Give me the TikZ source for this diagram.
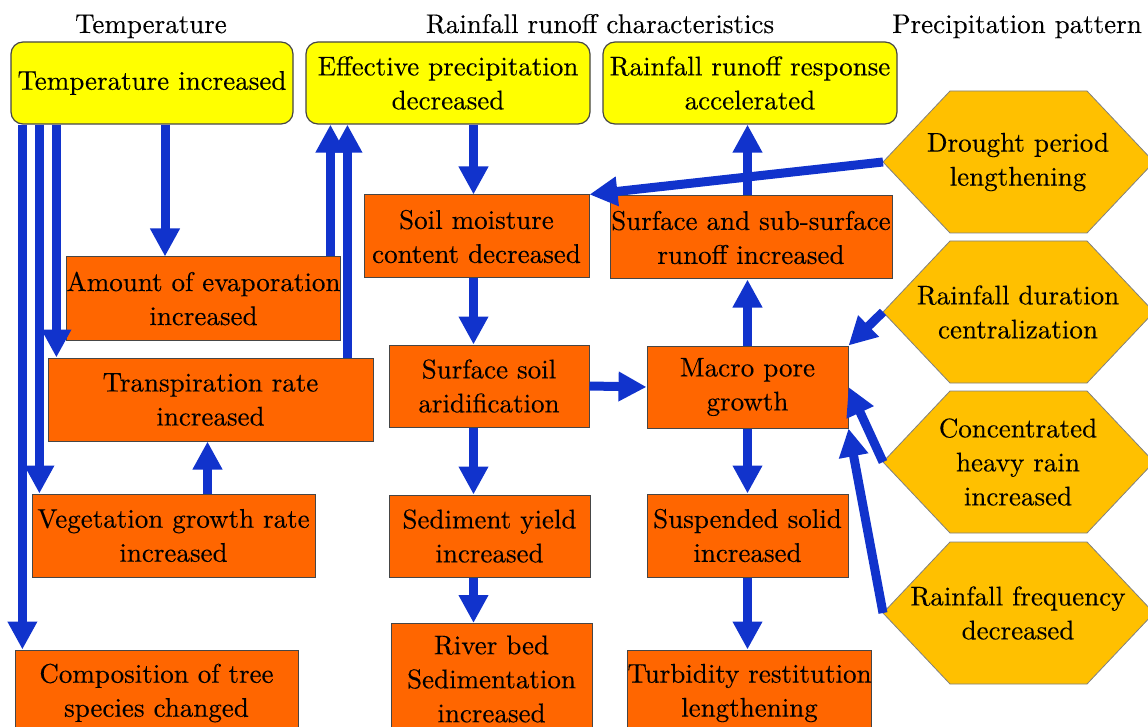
\documentclass[tikz,border=0pt]{standalone}
\usepackage{fontspec}
\setmainfont{lmroman10-regular.otf}[FakeBold=0.2]
\usetikzlibrary{arrows.meta,positioning}

\definecolor{arrowblue}{RGB}{17,51,204}
\definecolor{boxorange}{RGB}{255,102,0}
\definecolor{boxyellow}{RGB}{255,255,0}
\definecolor{hexgold}{RGB}{255,192,0}
\definecolor{edgegray}{RGB}{70,70,70}

% hexagon for a precipitation cause: name, x, y, text
\newcommand{\hexcause}[4]{%
  \filldraw[hexbox] (#2-135,#3) -- ++(67,-71) -- ++(137,0) -- ++(67,71)
    -- ++(-67,71) -- ++(-137,0) -- cycle;
  \node[hextext] (#1) at (#2,#3) {#4};
  \coordinate (#1-w) at (#2-135,#3);
}

\begin{document}
\begin{tikzpicture}[
    x=1pt, y=-1pt,
    font=\fontsize{27}{34}\selectfont,
    heading/.style={inner sep=0pt, anchor=base},
    cond/.style={draw=edgegray, line width=1.2pt, fill=boxyellow,
                 rounded corners=12pt, align=center, inner sep=0pt},
    effect/.style={draw=edgegray, line width=1pt, fill=boxorange,
                   align=center, inner sep=0pt},
    hexbox/.style={draw=gray, line width=0.8pt, fill=hexgold},
    hextext/.style={align=center, inner sep=0pt},
    flow/.style={draw=arrowblue, line width=9pt,
                 -{Triangle[width=28pt,length=28pt]}}
  ]
    \useasboundingbox (0,0) rectangle (1148,727);
    \clip (0,0) rectangle (1148,727);

    % column headings
    \node[heading] (ttemp) at (151,33) {Temperature};
    \node[heading] (trunoff) at (600,33) {Rainfall runoff characteristics};
    \node[heading] (tprecip) at (1017,33) {Precipitation pattern};

    % top conditions
    \node[cond, minimum width=282pt, minimum height=82pt] (tempup) at (152,83) {Temperature increased};
    \node[cond, minimum width=284pt, minimum height=82pt] (effprec) at (448,83) {Effective precipitation\\decreased};
    \node[cond, minimum width=294pt, minimum height=82pt] (response) at (750,83) {Rainfall runoff response\\accelerated};

    % temperature column
    \node[effect, minimum width=273pt, minimum height=83pt] (evap) at (203.5,298.5) {Amount of evaporation\\increased};
    \node[effect, minimum width=325pt, minimum height=83pt] (transp) at (210.5,399.5) {Transpiration rate\\increased};
    \node[effect, minimum width=283pt, minimum height=83pt] (veg) at (173.5,535.5) {Vegetation growth rate\\increased};
    \node[effect, minimum width=283pt, minimum height=86pt] (compo) at (156.5,693) {Composition of tree\\species changed};

    % runoff columns
    \node[effect, minimum width=225pt, minimum height=83pt] (soil) at (476.5,236.5) {Soil moisture\\content decreased};
    \node[effect, minimum width=282pt, minimum height=83pt] (runoff) at (751,237.5) {Surface and sub-surface\\runoff increased};
    \node[effect, minimum width=200pt, minimum height=82pt] (arid) at (489,386) {Surface soil\\aridification};
    \node[effect, minimum width=201pt, minimum height=82pt] (sediment) at (489.5,536) {Sediment yield\\increased};
    \node[effect, minimum width=201pt, minimum height=111pt] (riverbed) at (491.5,679) {River bed\\Sedimentation\\increased};
    \node[effect, minimum width=201pt, minimum height=82pt] (macro) at (747.5,387) {Macro pore\\growth};
    \node[effect, minimum width=201pt, minimum height=83pt] (suspended) at (747.5,535.5) {Suspended solid\\increased};
    \node[effect, minimum width=241pt, minimum height=86pt] (turbidity) at (749.5,693) {Turbidity restitution\\lengthening};

    % precipitation pattern
    \hexcause{drought}{1018}{162}{Drought period\\lengthening}
    \hexcause{duration}{1018}{312}{Rainfall duration\\centralization}
    \hexcause{heavy}{1018}{462}{Concentrated\\heavy rain\\increased}
    \hexcause{frequency}{1018}{613}{Rainfall frequency\\decreased}

    % temperature links
    \draw[flow] ([xshift=12pt]tempup.south west) -- ([xshift=12pt]tempup.south west |- compo.north);
    \draw[flow] ([xshift=29pt]tempup.south west) -- ([xshift=29pt]tempup.south west |- veg.north);
    \draw[flow] ([xshift=46pt]tempup.south west) -- ([xshift=46pt]tempup.south west |- transp.north);
    \draw[flow] ([xshift=13pt]tempup.south) -- ([xshift=13pt]tempup.south |- evap.north);
    \draw[flow] ([xshift=25pt]effprec.south west |- evap.north) -- ([xshift=25pt]effprec.south west);
    \draw[flow] ([xshift=42pt]effprec.south west |- transp.north) -- ([xshift=42pt]effprec.south west);
    \draw[flow] ([xshift=-3pt]transp.south |- veg.north) -- ([xshift=-3pt]transp.south);

    % runoff links
    \coordinate (midcol) at ([xshift=-3pt]soil.south);
    \draw[flow] (midcol |- effprec.south) -- (midcol |- soil.north);
    \draw[flow] (midcol) -- (midcol |- arid.north);
    \draw[flow] (midcol |- arid.south) -- (midcol |- sediment.north);
    \draw[flow] (midcol |- sediment.south) -- (midcol |- riverbed.north);
    \draw[flow] (arid.east) -- (macro.west);
    \draw[flow] (macro.north) -- (runoff.south -| macro.north);
    \draw[flow] (runoff.north -| macro.north) -- (response.south -| macro.north);
    \draw[flow] (macro.south) -- (suspended.north);
    \draw[flow] (suspended.south) -- (turbidity.north -| suspended.south);

    % precipitation links
    \draw[flow] (drought-w) -- (soil.north east);
    \draw[flow] (duration-w) -- (macro.north east);
    \draw[flow] (heavy-w) -- (macro.east);
    \draw[flow] (frequency-w) -- (macro.south east);
  \end{tikzpicture}
\end{document}
